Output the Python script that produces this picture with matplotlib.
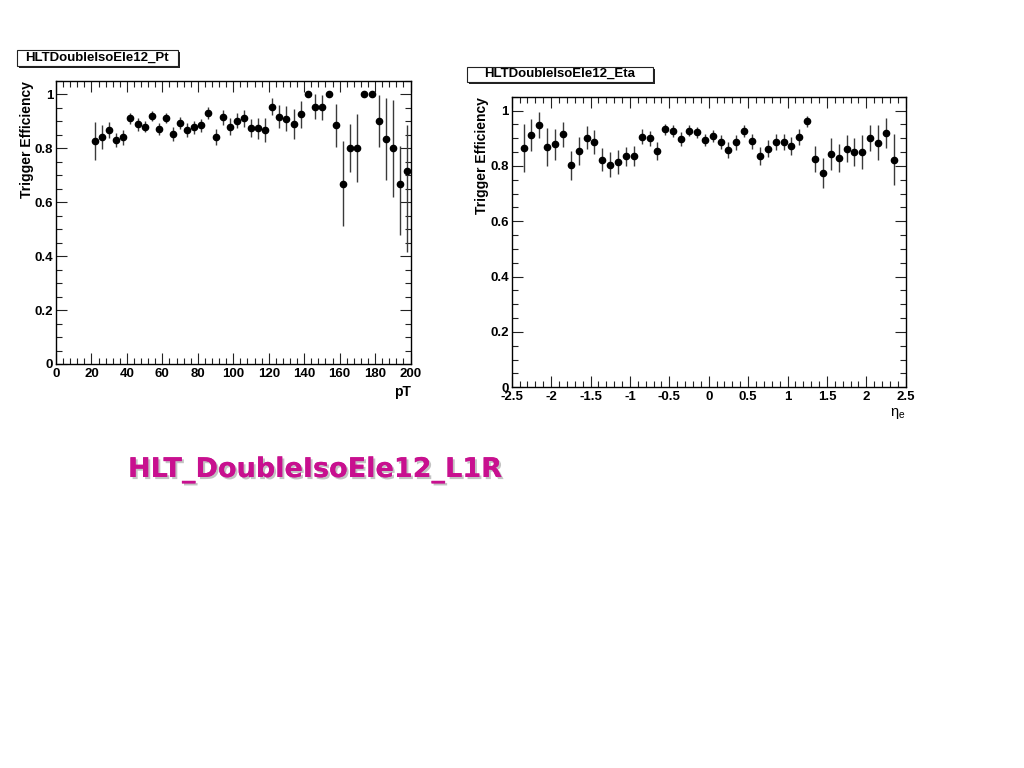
import numpy as np
import matplotlib
matplotlib.use('Agg')
import matplotlib.pyplot as plt
import matplotlib.patheffects as pe
from matplotlib.patches import Rectangle
from matplotlib.ticker import MultipleLocator

# --- data: efficiency vs pT ---
pt = [22, 26, 30, 34, 38, 42, 46, 50, 54, 58, 62, 66, 70, 74, 78, 82, 86, 90,
      94, 98, 102, 106, 110, 114, 118, 122, 126, 130, 134, 138, 142, 146, 150,
      154, 158, 162, 166, 170, 174, 178, 182, 186, 190, 194, 198]
pt_eff = [0.827, 0.842, 0.867, 0.831, 0.840, 0.911, 0.889, 0.880, 0.918, 0.871,
          0.911, 0.852, 0.894, 0.867, 0.877, 0.884, 0.930, 0.840,
          0.915, 0.880, 0.902, 0.911, 0.875, 0.873, 0.868, 0.954, 0.917, 0.909,
          0.889, 0.926, 1.0, 0.954, 0.951, 1.0, 0.884, 0.667, 0.800, 0.800,
          1.0, 1.0, 0.900, 0.833, 0.800, 0.667, 0.715]
pt_err_lo = [0.070, 0.045, 0.030, 0.025, 0.027, 0.020, 0.024, 0.021, 0.019, 0.022,
             0.019, 0.027, 0.022, 0.025, 0.025, 0.025, 0.022, 0.030,
             0.028, 0.033, 0.027, 0.031, 0.034, 0.040, 0.045, 0.031, 0.043, 0.047,
             0.055, 0.050, 0.0, 0.047, 0.047, 0.0, 0.079, 0.156, 0.089, 0.125,
             0.0, 0.0, 0.095, 0.151, 0.180, 0.190, 0.300]
pt_err_hi = [0.070, 0.045, 0.030, 0.025, 0.027, 0.020, 0.024, 0.021, 0.019, 0.022,
             0.019, 0.027, 0.022, 0.025, 0.025, 0.025, 0.022, 0.030,
             0.028, 0.033, 0.027, 0.031, 0.034, 0.040, 0.045, 0.031, 0.043, 0.047,
             0.055, 0.050, 0.0, 0.047, 0.047, 0.0, 0.079, 0.160, 0.089, 0.128,
             0.0, 0.0, 0.096, 0.154, 0.180, 0.140, 0.170]

# --- data: efficiency vs eta ---
eta = [-2.35, -2.25, -2.15, -2.05, -1.95, -1.85, -1.75, -1.65, -1.55, -1.45,
       -1.35, -1.25, -1.15, -1.05, -0.95, -0.85, -0.75, -0.65, -0.55, -0.45,
       -0.35, -0.25, -0.15, -0.05, 0.05, 0.15, 0.25, 0.35, 0.45, 0.55,
       0.65, 0.75, 0.85, 0.95, 1.05, 1.15, 1.25, 1.35, 1.45, 1.55,
       1.65, 1.75, 1.85, 1.95, 2.05, 2.15, 2.25, 2.35]
eta_eff = [0.866, 0.911, 0.949, 0.868, 0.878, 0.915, 0.802, 0.854, 0.902, 0.887,
           0.822, 0.805, 0.814, 0.834, 0.836, 0.905, 0.899, 0.855, 0.932, 0.926,
           0.897, 0.927, 0.921, 0.895, 0.909, 0.886, 0.857, 0.886, 0.926, 0.889,
           0.836, 0.862, 0.887, 0.887, 0.871, 0.904, 0.962, 0.826, 0.775, 0.844,
           0.829, 0.862, 0.850, 0.850, 0.901, 0.884, 0.919, 0.823]
eta_err = [0.087, 0.058, 0.047, 0.069, 0.057, 0.045, 0.053, 0.051, 0.041, 0.044,
           0.042, 0.045, 0.042, 0.036, 0.035, 0.027, 0.027, 0.032, 0.020, 0.020,
           0.025, 0.020, 0.020, 0.022, 0.022, 0.025, 0.030, 0.027, 0.022, 0.027,
           0.033, 0.030, 0.030, 0.030, 0.033, 0.030, 0.020, 0.047, 0.054, 0.058,
           0.050, 0.048, 0.049, 0.060, 0.047, 0.064, 0.053, 0.092]

W, H = 1024, 768
plt.rcParams['font.family'] = ['Liberation Sans', 'DejaVu Sans']
plt.rcParams['mathtext.default'] = 'regular'
fig = plt.figure(figsize=(W / 100, H / 100), dpi=100)


def px(x0, y0, x1, y1):
    # pixel box (top-left origin) -> figure fraction rect
    return [x0 / W, 1 - y1 / H, (x1 - x0) / W, (y1 - y0) / H]


def style(ax, xmaj, xmin):
    ax.set_ylim(0, 1.05)
    ax.xaxis.set_major_locator(MultipleLocator(xmaj))
    ax.xaxis.set_minor_locator(MultipleLocator(xmin))
    ax.yaxis.set_major_locator(MultipleLocator(0.2))
    ax.yaxis.set_minor_locator(MultipleLocator(0.05))
    ax.tick_params(which='both', direction='in', top=True, right=True,
                   labelsize=9.5, width=0.8, color='#222222')
    ax.tick_params(which='major', length=8)
    ax.tick_params(which='minor', length=4)
    ax.tick_params(axis='x', pad=3)
    ax.tick_params(axis='y', pad=2)
    for lab in ax.get_xticklabels() + ax.get_yticklabels():
        lab.set_fontweight('bold')
    for s in ax.spines.values():
        s.set_linewidth(1.0)
    ax.yaxis.set_major_formatter(plt.FuncFormatter(lambda v, p: '%g' % round(v, 2)))
    ax.xaxis.set_major_formatter(plt.FuncFormatter(lambda v, p: '%g' % round(v, 2)))


def title_box(x0, y0, x1, y1, text):
    fig.patches.append(Rectangle(((x0 + 2) / W, 1 - (y1 + 2) / H), (x1 - x0) / W,
                                 (y1 - y0) / H, transform=fig.transFigure,
                                 facecolor='#222222', edgecolor='none', zorder=1))
    fig.patches.append(Rectangle((x0 / W, 1 - y1 / H), (x1 - x0) / W, (y1 - y0) / H,
                                 transform=fig.transFigure, facecolor='white',
                                 edgecolor='#222222', linewidth=0.8, zorder=2))
    fig.text((x0 + x1) / 2 / W, 1 - (y0 + y1) / 2 / H, text, ha='center', va='center',
             fontsize=9.5, fontweight='bold', zorder=3)


# left pad: pT
ax1 = fig.add_axes(px(56, 80.7, 410.5, 364))
ax1.errorbar(pt, pt_eff, yerr=[pt_err_lo, pt_err_hi], fmt='o', color='black',
             ms=4.5, ecolor='#3a3a3a', elinewidth=1, capsize=0)
ax1.set_xlim(0, 200)
style(ax1, 20, 4)
ax1.text(1.0, -0.075, 'pT', transform=ax1.transAxes, ha='right', va='top',
         fontsize=10, fontweight='bold')
ax1.text(-0.082, 1.0, 'Trigger Efficiency', transform=ax1.transAxes, rotation=90,
         ha='center', va='top', fontsize=10, fontweight='bold')
title_box(16.7, 50, 178, 66, 'HLTDoubleIsoEle12_Pt')

# right pad: eta
ax2 = fig.add_axes(px(511.7, 96.7, 905.7, 387.3))
ax2.errorbar(eta, eta_eff, yerr=eta_err, fmt='o', color='black',
             ms=4.5, ecolor='#3a3a3a', elinewidth=1, capsize=0)
ax2.set_xlim(-2.5, 2.5)
style(ax2, 0.5, 0.1)
ax2.text(1.0, -0.065, r'$\eta_{e}$', transform=ax2.transAxes, ha='right', va='top',
         fontsize=10.5)
ax2.text(-0.075, 1.0, 'Trigger Efficiency', transform=ax2.transAxes, rotation=90,
         ha='center', va='top', fontsize=10, fontweight='bold')
title_box(467, 66.7, 653, 81.7, 'HLTDoubleIsoEle12_Eta')

# slide caption
fig.text(128 / W, 1 - 470 / H, 'HLT_DoubleIsoEle12_L1R', ha='left', va='center',
         fontsize=19.5, fontweight='bold', color='#c8108f', family='DejaVu Sans',
         path_effects=[pe.withSimplePatchShadow(offset=(1.5, -1.5),
                                                shadow_rgbFace='#888888', alpha=0.5),
                       pe.Normal()])

fig.savefig('out.png', dpi=100, facecolor='white')
